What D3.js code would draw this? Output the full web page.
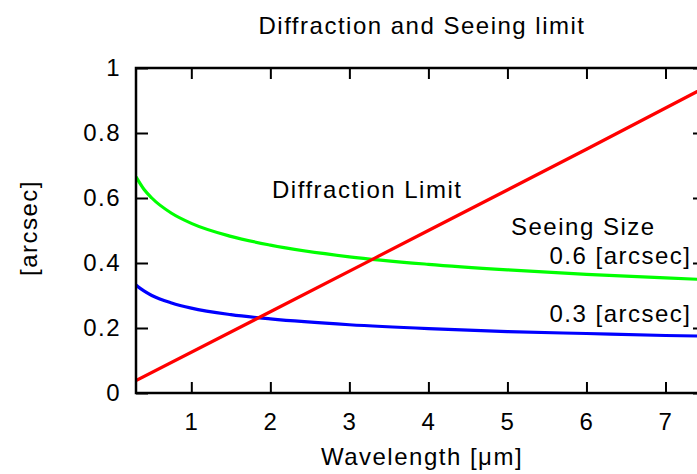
<!DOCTYPE html>
<html>
<head>
<meta charset="utf-8">
<script src="https://cdn.jsdelivr.net/npm/d3@7"></script>
<style>
  body { margin: 0; background: #fff; }
  text { font-family: "Liberation Sans", Arial, sans-serif; fill: #000; letter-spacing: 1.5px; }
</style>
</head>
<body>
<div id="chart"></div>
<script>
// wavelength samples [um]
let wavelength = [0.3, 0.4, 0.5, 0.75, 1, 1.5, 2, 3, 4, 5, 6, 7, 7.5];
// seeing 0.6 arcsec (green) and 0.3 arcsec (blue)
let seeing06 = [0.665, 0.627, 0.600, 0.553, 0.522, 0.482, 0.455, 0.419, 0.396, 0.379, 0.365, 0.354, 0.349];
let seeing03 = [0.332, 0.314, 0.300, 0.277, 0.261, 0.241, 0.228, 0.210, 0.198, 0.189, 0.183, 0.177, 0.175];
// diffraction limit (red)
let diffWave = [0.3, 2, 4, 6, 7.5];
let diffLimit = [0.038, 0.25, 0.50, 0.75, 0.94];

let xTicks = [1, 2, 3, 4, 5, 6, 7];
let yTicks = [0, 0.2, 0.4, 0.6, 0.8, 1];

let width = 697, height = 474;
let plot = {left: 136, right: 705, top: 68, bottom: 393};
let fontSize = 24;

let svg = d3.select("#chart").append("svg")
    .attr("width", width)
    .attr("height", height);

let x = d3.scaleLinear().domain([0.3, 7.5]).range([plot.left, plot.right]);
let y = d3.scaleLinear().domain([0, 1]).range([plot.bottom, plot.top]);

// axes, ticks pointing inward like gnuplot
let bottomAxis = svg.append("g")
    .attr("transform", `translate(0, ${plot.bottom})`)
    .call(d3.axisBottom(x).tickValues(xTicks).tickSizeInner(-11).tickSizeOuter(0).tickPadding(20).tickFormat(d3.format("d")));
let leftAxis = svg.append("g")
    .attr("transform", `translate(${plot.left}, 0)`)
    .call(d3.axisLeft(y).tickValues(yTicks).tickSizeInner(-12).tickSizeOuter(0).tickPadding(15).tickFormat(d => d3.format("")(+d.toFixed(1))));
let topAxis = svg.append("g")
    .attr("transform", `translate(0, ${plot.top})`)
    .call(d3.axisTop(x).tickValues(xTicks).tickSizeInner(-11).tickSizeOuter(0).tickFormat(""));
let rightAxis = svg.append("g")
    .attr("transform", `translate(${plot.right}, 0)`)
    .call(d3.axisRight(y).tickValues(yTicks).tickSizeInner(-12).tickSizeOuter(0).tickFormat(""));

[bottomAxis, leftAxis, topAxis, rightAxis].forEach(a => {
    a.select(".domain").remove();
    a.selectAll(".tick line").attr("stroke", "#000").attr("stroke-width", 2);
    a.selectAll(".tick text").attr("font-size", fontSize).attr("font-family", null);
});

// curves
let line = d3.line().x(d => x(d[0])).y(d => y(d[1])).curve(d3.curveMonotoneX);

svg.append("defs").append("clipPath").attr("id", "clip")
    .append("rect")
    .attr("x", plot.left).attr("y", plot.top)
    .attr("width", plot.right - plot.left).attr("height", plot.bottom - plot.top);

let curves = [
    {values: d3.zip(wavelength, seeing06), color: "#00ff00"},
    {values: d3.zip(wavelength, seeing03), color: "#0000ff"},
    {values: d3.zip(diffWave, diffLimit), color: "#ff0000"}
];

svg.append("g").attr("clip-path", "url(#clip)")
    .selectAll("path")
    .data(curves)
    .enter().append("path")
    .attr("d", d => line(d.values))
    .attr("fill", "none")
    .attr("stroke", d => d.color)
    .attr("stroke-width", 3.2);

// border
svg.append("rect")
    .attr("x", plot.left).attr("y", plot.top)
    .attr("width", plot.right - plot.left).attr("height", plot.bottom - plot.top)
    .attr("fill", "none")
    .attr("stroke", "#000")
    .attr("stroke-width", 2.5);

// titles and labels
svg.append("text")
    .text("Diffraction and Seeing limit")
    .attr("x", 422).attr("y", 34)
    .attr("text-anchor", "middle")
    .attr("font-size", fontSize);

svg.append("text")
    .text("Wavelength [\u03bcm]")
    .attr("x", 422).attr("y", 465)
    .attr("text-anchor", "middle")
    .attr("font-size", fontSize);

svg.append("text")
    .text("[arcsec]")
    .attr("transform", "translate(37, 228) rotate(-90)")
    .attr("text-anchor", "middle")
    .attr("font-size", fontSize);

let notes = [
    {text: "Diffraction Limit", x: 272, y: 198, anchor: "start"},
    {text: "Seeing Size", x: 511, y: 235, anchor: "start"},
    {text: "0.6 [arcsec]", x: 691.5, y: 264, anchor: "end"},
    {text: "0.3 [arcsec]", x: 691.5, y: 322, anchor: "end"}
];
svg.selectAll(".note")
    .data(notes)
    .enter().append("text")
    .attr("class", "note")
    .attr("x", d => d.x).attr("y", d => d.y)
    .attr("text-anchor", d => d.anchor)
    .attr("font-size", fontSize)
    .text(d => d.text);
</script>
</body>
</html>
